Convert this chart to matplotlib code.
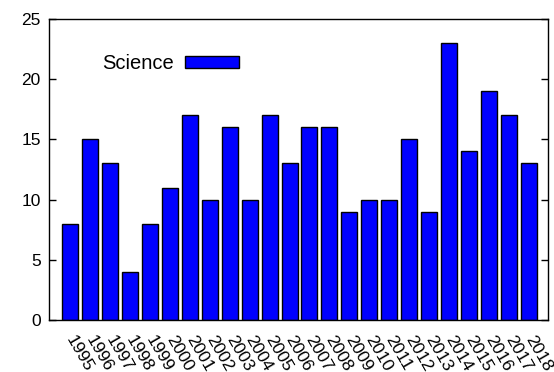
import matplotlib.pyplot as plt
import matplotlib.transforms as mtransforms

# data
years = [str(y) for y in range(1995, 2019)]
science = [8, 15, 13, 4, 8, 11, 17, 10, 16, 10, 17, 13, 16, 16, 9, 10, 10, 15, 9, 23, 14, 19, 17, 13]

plt.rcParams['font.family'] = ['Liberation Sans', 'DejaVu Sans']

fig = plt.figure(figsize=(5.54, 3.72), dpi=100)
ax = fig.add_axes([49 / 554, 52 / 372, 499 / 554, 301 / 372])

x = list(range(len(years)))
ax.bar(x, science, width=0.8, color='#0000ff', edgecolor='black', linewidth=1.0,
       label='Science', zorder=2)

ax.set_xlim(-1.05, 23.95)
ax.set_ylim(0, 25)
ax.set_yticks([0, 5, 10, 15, 20, 25])
ax.tick_params(axis='y', direction='in', length=5, width=1, labelsize=12.5,
               right=True, pad=6)
ax.set_xticks(x)
# 标签绕左下角旋转
ax.set_xticklabels(years, rotation=-60, ha='left', va='baseline',
                   rotation_mode='anchor', fontsize=12.5)
ax.tick_params(axis='x', length=0, pad=14)
offset = mtransforms.ScaledTranslation(-4 / 100, 0, fig.dpi_scale_trans)
for lbl in ax.get_xticklabels():
    lbl.set_transform(lbl.get_transform() + offset)

for s in ax.spines.values():
    s.set_linewidth(1.0)

# 图例
leg = ax.legend(loc='upper left', bbox_to_anchor=(0.09, 0.91), frameon=False,
                markerfirst=False, handlelength=2.7, handleheight=0.5,
                fontsize=14.5, handletextpad=0.55, borderaxespad=0)

fig.savefig('out.png', dpi=100)
